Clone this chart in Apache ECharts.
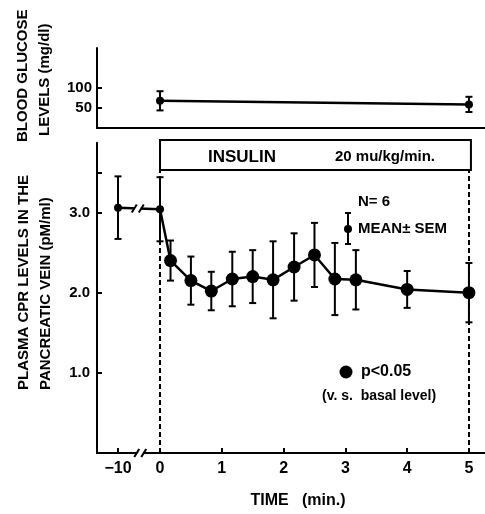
<!DOCTYPE html>
<html>
<head>
<meta charset="utf-8">
<script src="https://cdn.jsdelivr.net/npm/echarts@6/dist/echarts.min.js"></script>
<style>
  html, body { margin: 0; padding: 0; background: #fff; }
  #chart { width: 485px; height: 514px; }
</style>
</head>
<body>
<div id="chart"></div>
<script>
// plasma CPR, pancreatic vein (pM/ml), mean and SEM, n = 6
const times = [-10, 0, 0.17, 0.5, 0.83, 1.17, 1.5, 1.83, 2.17, 2.5, 2.83, 3.17, 4, 5];
const cprMean = [3.06, 3.04, 2.40, 2.15, 2.02, 2.17, 2.20, 2.16, 2.32, 2.47, 2.17, 2.16, 2.04, 2.00];
const cprSem = [0.39, 0.40, 0.25, 0.30, 0.24, 0.34, 0.33, 0.48, 0.42, 0.40, 0.45, 0.37, 0.23, 0.37];
const significant = [0, 0, 1, 1, 1, 1, 1, 1, 1, 1, 1, 1, 1, 1];

// blood glucose (mg/dl)
const glucoseTimes = [0, 5];
const glucoseMean = [68, 59];
const glucoseSem = [24, 19];

const xTickValues = [-10, 0, 1, 2, 3, 4, 5];
const cprTickValues = [1, 2, 3];
const glucoseTickValues = [50, 100];

// the time axis is broken between -10 and 0
const BREAK_POS = -0.68;
function axisX(t) {
  return t < 0 ? BREAK_POS : t;
}

const FONT = 'Liberation Sans';
const chart = echarts.init(document.getElementById('chart'));

function errorBarItem(params, api) {
  const x = api.value(0);
  const top = api.coord([x, api.value(2)]);
  const bot = api.coord([x, api.value(1)]);
  const cap = 3.5;
  const style = { stroke: '#000', lineWidth: 2 };
  return {
    type: 'group',
    children: [
      { type: 'line', shape: { x1: top[0], y1: top[1], x2: bot[0], y2: bot[1] }, style: style },
      { type: 'line', shape: { x1: top[0] - cap, y1: top[1], x2: top[0] + cap, y2: top[1] }, style: style },
      { type: 'line', shape: { x1: bot[0] - cap, y1: bot[1], x2: bot[0] + cap, y2: bot[1] }, style: style }
    ]
  };
}

const labelStyle = { color: '#000', fontFamily: FONT, fontWeight: 'bold', fontSize: 15 };
const lineAxis = { show: true, onZero: false, lineStyle: { color: '#000', width: 2 } };

const option = {
  animation: false,
  grid: [
    { left: 97, right: 0, top: 48, bottom: 386 },
    { left: 97, right: 0, top: 142.7, bottom: 52 }
  ],
  xAxis: [
    {
      gridIndex: 0, type: 'value', min: -1.02, max: 5.26,
      axisLine: lineAxis, axisTick: { show: false }, axisLabel: { show: false },
      splitLine: { show: false }
    },
    {
      gridIndex: 1, type: 'value', min: -1.02, max: 5.26,
      axisLine: lineAxis,
      axisTick: {
        inside: true, length: 5, lineStyle: { color: '#000', width: 2 },
        customValues: xTickValues.map(axisX)
      },
      axisLabel: Object.assign({
        margin: 8,
        customValues: xTickValues.map(axisX),
        formatter: function (v) {
          return v < 0 ? '\u2212' + Math.abs(xTickValues[0]) : String(Math.round(v));
        }
      }, labelStyle, { fontSize: 16 }),
      splitLine: { show: false },
      name: 'TIME   (min.)', nameLocation: 'middle', nameGap: 40,
      nameTextStyle: { color: '#000', fontFamily: FONT, fontWeight: 'bold', fontSize: 16, padding: [0, 0, 0, 14] }
    }
  ],
  yAxis: [
    {
      gridIndex: 0, type: 'value', min: 0, max: 200,
      axisLine: lineAxis,
      axisTick: {
        inside: true, length: 5, lineStyle: { color: '#000', width: 2 },
        customValues: glucoseTickValues
      },
      axisLabel: Object.assign({ margin: 5, customValues: glucoseTickValues }, labelStyle),
      splitLine: { show: false }
    },
    {
      gridIndex: 1, type: 'value', min: 0, max: 3.87,
      axisLine: lineAxis,
      axisTick: {
        inside: true, length: 5, lineStyle: { color: '#000', width: 2 },
        customValues: cprTickValues.concat([3.5])
      },
      axisLabel: Object.assign({
        margin: 7,
        customValues: cprTickValues,
        formatter: function (v) { return v.toFixed(1); }
      }, labelStyle),
      splitLine: { show: false }
    }
  ],
  series: [
    {
      type: 'custom', xAxisIndex: 0, yAxisIndex: 0, renderItem: errorBarItem,
      encode: { x: 0, y: [1, 2] }, silent: true,
      data: glucoseTimes.map((t, i) => [axisX(t), glucoseMean[i] - glucoseSem[i], glucoseMean[i] + glucoseSem[i]])
    },
    {
      type: 'line', xAxisIndex: 0, yAxisIndex: 0,
      symbol: 'circle', symbolSize: 8,
      itemStyle: { color: '#000' }, lineStyle: { color: '#000', width: 2.5 },
      data: glucoseTimes.map((t, i) => [axisX(t), glucoseMean[i]])
    },
    {
      type: 'custom', xAxisIndex: 1, yAxisIndex: 1, renderItem: errorBarItem,
      encode: { x: 0, y: [1, 2] }, silent: true,
      data: times.map((t, i) => [axisX(t), cprMean[i] - cprSem[i], cprMean[i] + cprSem[i]])
    },
    {
      type: 'line', xAxisIndex: 1, yAxisIndex: 1,
      symbol: 'circle',
      itemStyle: { color: '#000' }, lineStyle: { color: '#000', width: 2.5 },
      data: times.map((t, i) => ({
        value: [axisX(t), cprMean[i]],
        symbolSize: significant[i] ? 13 : 8
      })),
      markLine: {
        silent: true, symbol: 'none', label: { show: false },
        lineStyle: { color: '#000', width: 2, type: [5, 3] },
        data: [
          [{ coord: [0, 0] }, { coord: [0, 3.54] }],
          [{ coord: [5, 0] }, { coord: [5, 3.54] }]
        ]
      }
    }
  ]
};
chart.setOption(option);

// annotations placed from the axes
function breakMark(p) {
  const s = { stroke: '#000', lineWidth: 2 };
  return [
    { type: 'rect', shape: { x: p[0] - 3, y: p[1] - 2.5, width: 6, height: 5 }, style: { fill: '#fff' }, z: 50 },
    { type: 'line', shape: { x1: p[0] - 6, y1: p[1] + 4, x2: p[0] - 1, y2: p[1] - 4 }, style: s, z: 51 },
    { type: 'line', shape: { x1: p[0] + 1, y1: p[1] + 4, x2: p[0] + 6, y2: p[1] - 4 }, style: s, z: 51 }
  ];
}
const breakX = BREAK_POS / 2 - 0.02;
const onLine = chart.convertToPixel({ gridIndex: 1 }, [breakX, (cprMean[0] + cprMean[1]) / 2]);
const onAxis = chart.convertToPixel({ gridIndex: 1 }, [breakX + 0.04, 0]);
const box0 = chart.convertToPixel({ gridIndex: 1 }, [0, 0]);
const box5 = chart.convertToPixel({ gridIndex: 1 }, [5, 0]);

function vText(x, y, text, size) {
  return {
    type: 'text', x: x, y: y, rotation: Math.PI / 2, z: 60,
    style: { text: text, fill: '#000', font: 'bold ' + size + 'px "' + FONT + '"', align: 'left', verticalAlign: 'middle' }
  };
}
function hText(x, y, text, size, align) {
  return {
    type: 'text', x: x, y: y, z: 60,
    style: { text: text, fill: '#000', font: 'bold ' + size + 'px "' + FONT + '"', align: align || 'left', verticalAlign: 'middle' }
  };
}

const legendStyle = { stroke: '#000', lineWidth: 2 };
chart.setOption({
  graphic: [].concat(
    breakMark(onLine),
    breakMark(onAxis),
    [
      {
        type: 'rect', z: 55,
        shape: { x: box0[0], y: 140, width: box5[0] - box0[0] + 2, height: 30 },
        style: { fill: '#fff', stroke: '#000', lineWidth: 2 }
      },
      hText(242, 157, 'INSULIN', 17, 'center'),
      hText(385, 157, '20 mu/kg/min.', 15, 'center'),
      hText(358, 202, 'N= 6', 15),
      hText(358, 229, 'MEAN\u00b1 SEM', 15),
      { type: 'line', shape: { x1: 348, y1: 213, x2: 348, y2: 244 }, style: legendStyle, z: 60 },
      { type: 'line', shape: { x1: 345, y1: 213, x2: 351, y2: 213 }, style: legendStyle, z: 60 },
      { type: 'line', shape: { x1: 345, y1: 244, x2: 351, y2: 244 }, style: legendStyle, z: 60 },
      { type: 'circle', shape: { cx: 348, cy: 229, r: 4 }, style: { fill: '#000' }, z: 60 },
      { type: 'circle', shape: { cx: 346, cy: 372, r: 6.5 }, style: { fill: '#000' }, z: 60 },
      hText(361, 372, 'p<0.05', 16),
      hText(322, 396, '(v. s.  basal level)', 14),
      vText(23, 142, 'BLOOD GLUCOSE', 15),
      vText(45, 136, 'LEVELS (mg/dl)', 15),
      vText(24, 390, 'PLASMA CPR LEVELS IN THE', 15),
      vText(46, 390, 'PANCREATIC VEIN (pM/ml)', 15)
    ]
  )
});
</script>
</body>
</html>
